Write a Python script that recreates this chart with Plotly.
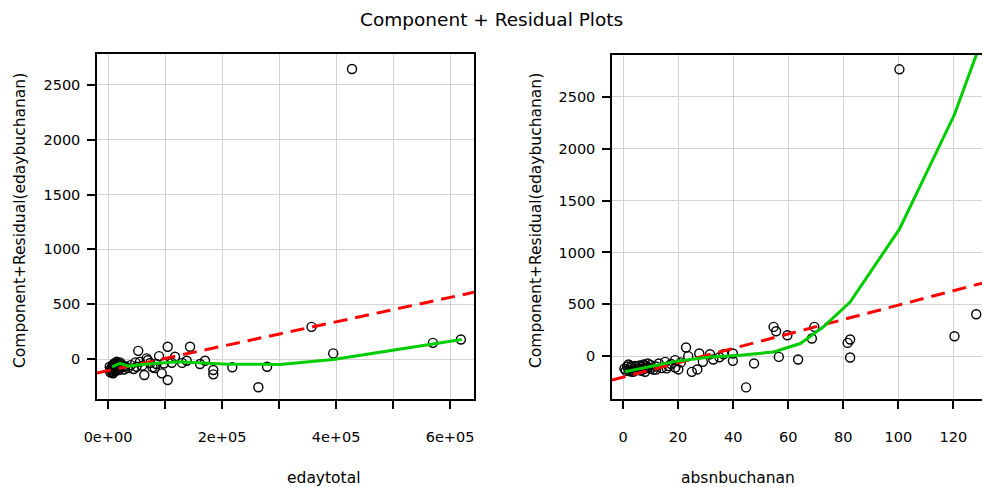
import numpy as np
import plotly.graph_objects as go

# left panel: edaytotal vs component + residual
eday_x = [53000, 104700, 143900, 67900, 63700, 89500, 94200, 104700, 111800, 117500,
          138100, 161400, 170200, 184700, 184700, 218000, 263700, 279000, 357000, 395000,
          570000, 619000, 428000, 35000, 56000, 74000, 82000,
          4000, 5000, 6000, 7000, 8000, 9000, 10000, 11000, 12000, 13000,
          14000, 15000, 16000, 17000, 18000, 19000, 20000, 21000, 22000, 24000,
          26000, 28000, 30000, 6500, 9500, 12500, 3000, 8500, 11500, 16500,
          40000, 45000, 50000, 60000, 70000, 78000, 85000, 98000, 130000, 48000]
eday_y = [75, 112, 112, 6, -145, 27, -130, -191, -34, 21,
          -15, -45, -15, -100, -139, -75, -257, -70, 294, 52,
          148, 179, 2645, -82, -25, -36, -82,
          -120, -95, -80, -105, -60, -130, -85, -40, -70, -110,
          -55, -25, -90, -75, -45, -100, -60, -30, -80, -50,
          -70, -95, -65, -115, -50, -95, -70, -125, -100, -35,
          -55, -90, -70, -60, -10, -75, -45, -40, -35, -30]
eday_fit = [-105.5, 0.001113]  # intercept, slope
eday_smooth_x = [7000, 21000, 35600, 65000, 122800, 152600, 211000, 269600, 301700, 395000, 570700, 620500]
eday_smooth_y = [-70, -39, -64, -48, -24, -30, -48, -48, -50, -3, 143, 179]

# right panel: absnbuchanan vs component + residual
absn_x = [44.7, 47.6, 54.7, 55.6, 59.7, 56.6, 63.6, 68.6, 69.5, 81.6,
          82.5, 82.5, 120.4, 128.3, 100.4, 22.9, 23.7, 27.7, 31.6, 32.8,
          36.5, 39.9, 39.9, 25, 27, 20.1, 15.3, 15.9, 18.9,
          0.5, 1, 1.5, 2, 2.5, 3, 3.5, 4, 4.5, 5,
          5.5, 6, 6.5, 7, 7.5, 8, 8.5, 9, 10, 11,
          12, 13, 14, 2, 3, 4, 6, 7, 8, 9,
          10, 12, 16.5, 17.5, 19, 21, 29, 35]
absn_y = [-301, -70, 282, 240, 202, -7, -32, 170, 282, 128,
          161, -13, 192, 404, 2766, 84, 0, 26, 19, -32,
          19, 26, -45, -151, -128, -128, -55, -118, -38,
          -120, -140, -100, -130, -145, -110, -150, -125, -95, -135,
          -115, -90, -140, -105, -80, -120, -95, -110, -85, -130,
          -100, -70, -115, -80, -95, -145, -120, -130, -150, -70,
          -120, -130, -95, -75, -110, -60, -55, -10]
absn_fit = [-203, 6.95]
absn_smooth_x = [0.7, 19.5, 31.6, 42.5, 54.7, 64.4, 72.8, 82.5, 100.4, 120.4, 129.5]
absn_smooth_y = [-151, -48, -7, 10, 40, 122, 282, 522, 1225, 2330, 2990]

eday_range = [-19300, 642000]
absn_range = [-4, 130.4]

FONT = "DejaVu Sans"
GRID = "#d3d3d3"

fig = go.Figure()

def add_panel(xs, ys, fit, sx, sy, xr, xa, ya):
    lx = np.array(xr)
    fig.add_trace(go.Scatter(x=xs, y=ys, mode="markers", xaxis=xa, yaxis=ya,
                             marker=dict(symbol="circle-open", size=9, color="black",
                                         line=dict(width=1.4, color="black"))))
    fig.add_trace(go.Scatter(x=lx, y=fit[0] + fit[1] * lx, mode="lines", xaxis=xa, yaxis=ya,
                             line=dict(color="red", width=3, dash="14px,8px")))
    fig.add_trace(go.Scatter(x=sx, y=sy, mode="lines", xaxis=xa, yaxis=ya,
                             line=dict(color="#00CD00", width=3)))

add_panel(eday_x, eday_y, eday_fit, eday_smooth_x, eday_smooth_y, eday_range, "x", "y")
add_panel(absn_x, absn_y, absn_fit, absn_smooth_x, absn_smooth_y, absn_range, "x2", "y2")

axis_common = dict(showgrid=True, gridcolor=GRID, gridwidth=1.3, zeroline=False,
                   showline=True, linecolor="black", linewidth=1.5, automargin=False,
                   ticks="outside", ticklen=8, tickwidth=1.5, tickcolor="black",
                   tickfont=dict(family=FONT, size=14.5, color="black"))

fig.update_layout(
    width=982, height=487,
    margin=dict(l=0, r=0, t=0, b=0, autoexpand=False),
    paper_bgcolor="white", plot_bgcolor="white",
    showlegend=False,
    xaxis=dict(domain=[97/982, 474/982], range=eday_range, mirror=True,
               tickvals=[0, 1e5, 2e5, 3e5, 4e5, 5e5, 6e5],
               ticktext=["0e+00", "", "2e+05", "", "4e+05", "", "6e+05"],
               ticklabelstandoff=16, **axis_common),
    yaxis=dict(domain=[1 - 399/487, 1 - 54/487], range=[-364, 2782], mirror=True,
               tickvals=[0, 500, 1000, 1500, 2000, 2500], anchor="x",
               ticklabelstandoff=4, **axis_common),
    xaxis2=dict(domain=[612/982, 1.0], range=absn_range, mirror=True, anchor="y2",
                tickvals=[0, 20, 40, 60, 80, 100, 120],
                ticklabelstandoff=16, **axis_common),
    yaxis2=dict(domain=[1 - 399/487, 1 - 55/487], range=[-413, 2904], mirror=False,
                tickvals=[0, 500, 1000, 1500, 2000, 2500], anchor="x2",
                ticklabelstandoff=4, **axis_common),
)

ann_font = dict(family=FONT, size=15.5, color="black")
fig.add_annotation(text="Component + Residual Plots", x=0.5, y=1 - 20/487, xref="paper", yref="paper",
                   yanchor="middle", showarrow=False, font=dict(family=FONT, size=18.5, color="black"))
fig.add_annotation(text="edaytotal", x=285/982, y=1 - 478/487, xref="paper", yref="paper",
                   yanchor="middle", showarrow=False, font=ann_font)
fig.add_annotation(text="absnbuchanan", x=797/982, y=1 - 478/487, xref="paper", yref="paper",
                   yanchor="middle", showarrow=False, font=ann_font)
fig.add_annotation(text="Component+Residual(edaybuchanan)", x=20/982, y=1 - 221/487,
                   xref="paper", yref="paper", xanchor="center", yanchor="middle",
                   textangle=-90, showarrow=False, font=ann_font)
fig.add_annotation(text="Component+Residual(edaybuchanan)", x=536/982, y=1 - 221/487,
                   xref="paper", yref="paper", xanchor="center", yanchor="middle",
                   textangle=-90, showarrow=False, font=ann_font)

fig.write_html("out.html", config={"displayModeBar": False},
               post_script="document.body.style.margin='0';document.body.style.overflow='hidden';")
